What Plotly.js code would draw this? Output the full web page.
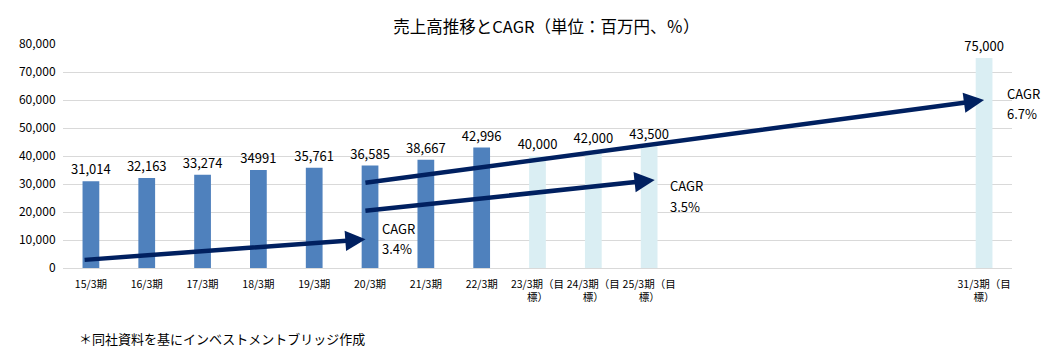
<!DOCTYPE html>
<html><head><meta charset="utf-8">
<script src="https://cdn.plot.ly/plotly-3.0.1.min.js"></script>
<style>html,body{margin:0;padding:0;background:#fff}#chart{width:1059px;height:358px}</style>
</head><body><div id="chart"></div>
<script>
// Data
const fiscalYears = [15,16,17,18,19,20,21,22,23,24,25,31];
const categories = ["15/3期","16/3期","17/3期","18/3期","19/3期","20/3期","21/3期","22/3期","23/3期（目<br>標）","24/3期（目<br>標）","25/3期（目<br>標）","31/3期（目<br>標）"];
const sales = [31014,32163,33274,34991,35761,36585,38667,42996,40000,42000,43500,75000];
const salesLabels = ["31,014","32,163","33,274","34991","35,761","36,585","38,667","42,996","40,000","42,000","43,500","75,000"];
const isTarget = [false,false,false,false,false,false,false,false,true,true,true,true];
const cagrHeads = ["CAGR","CAGR","CAGR"];
const cagrRates = ["3.4%","3.5%","6.7%"];
// arrows: [fromYear, fromValue, toYear, toValue]
const cagrArrows = [[14.86,2860,19.92,10250],[19.89,20360,25.1,31430],[19.89,30360,31.0,60000]];
const cagrLabelPos = [[20.17,14000],[25.33,29300],[31.37,62300]];
const yTicks = [0,10000,20000,30000,40000,50000,60000,70000,80000];

const fontFam = '"Noto Sans CJK JP", "Open Sans", sans-serif';
const trace = {
  type:'bar', x: fiscalYears, y: sales, width: 0.3,
  marker:{color: isTarget.map(t=>t?'#DAEEF3':'#4F81BD')},
  text: salesLabels, textposition:'outside', cliponaxis:false, constraintext:'none',
  textfont:{family:fontFam, size:13, color:'#000'}, hoverinfo:'none'
};
const annotations = [];
cagrArrows.forEach(a=>{
  annotations.push({x:a[2], y:a[3], ax:a[0], ay:a[1], xref:'x', yref:'y', axref:'x', ayref:'y',
    text:'', showarrow:true, arrowhead:2, arrowsize:0.9, arrowwidth:4.5, arrowcolor:'#002060', standoff:0});
});
cagrHeads.forEach((t,i)=>{
  annotations.push({x:cagrLabelPos[i][0], y:cagrLabelPos[i][1], xref:'x', yref:'y', text:t, showarrow:false,
    xanchor:'left', yanchor:'middle', align:'left', font:{family:fontFam, size:13, color:'#000'}});
  annotations.push({x:cagrLabelPos[i][0], y:cagrLabelPos[i][1]-7200, xref:'x', yref:'y', text:cagrRates[i], showarrow:false,
    xanchor:'left', yanchor:'middle', align:'left', font:{family:fontFam, size:13, color:'#000'}});
});
annotations.push({x:(77-63)/949, y:-(338-268)/224, xref:'paper', yref:'paper', text:'＊同社資料を基にインベストメントブリッジ作成', showarrow:false,
  xanchor:'left', yanchor:'middle', font:{family:fontFam, size:13, color:'#000'}});

const layout = {
  width:1059, height:358, margin:{l:63, r:47, t:44, b:90},
  paper_bgcolor:'#fff', plot_bgcolor:'#fff', showlegend:false,
  title:{text:'売上高推移とCAGR（単位：百万円、％）', x:0.516, xanchor:'center', y:0.925, yanchor:'middle',
    font:{family:fontFam, size:16.5, color:'#000'}},
  xaxis:{range:[14.5,31.5], tickvals:fiscalYears, ticktext:categories, tickangle:0, showgrid:false,
    zeroline:false, showline:false, ticks:'outside', ticklen:6, tickcolor:'rgba(0,0,0,0)', fixedrange:true,
    tickfont:{family:fontFam, size:10.5, color:'#000'}},
  yaxis:{range:[0,80000], tickvals:yTicks, tickformat:',', showgrid:true, gridcolor:'#D9D9D9', gridwidth:1,
    zeroline:true, zerolinecolor:'#D9D9D9', showline:false, ticks:'outside', ticklen:4, tickcolor:'rgba(0,0,0,0)',
    tickfont:{family:fontFam, size:12, color:'#000'}},
  annotations: annotations
};
Plotly.newPlot('chart',[trace],layout,{staticPlot:true, displayModeBar:false});
</script></body></html>
